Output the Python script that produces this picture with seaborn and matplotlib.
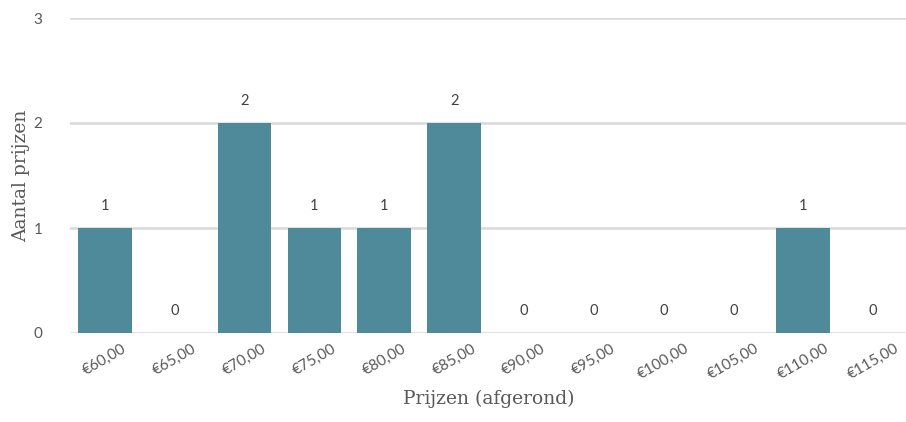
import matplotlib
matplotlib.use("Agg")
import matplotlib.pyplot as plt
import seaborn as sns
import pandas as pd

# Price buckets (rounded) and how many prices fall in each
prijzen = ["€60,00", "€65,00", "€70,00", "€75,00", "€80,00", "€85,00",
           "€90,00", "€95,00", "€100,00", "€105,00", "€110,00", "€115,00"]
aantal = [1, 0, 2, 1, 1, 2, 0, 0, 0, 0, 1, 0]
y_ticks = [0, 1, 2, 3]

df = pd.DataFrame({"prijs": prijzen, "aantal": aantal})

sns.set_theme(style="white")
plt.rcParams["font.family"] = ["Lato", "DejaVu Sans"]

bar_color = "#4F8A9A"
text_color = "#595959"

fig = plt.figure(figsize=(9.06, 4.22), dpi=100)
ax = fig.add_axes([70 / 906, 1 - 333 / 422, 838 / 906, 315 / 422])

sns.barplot(data=df, x="prijs", y="aantal", color=bar_color, width=0.77,
            saturation=1, linewidth=0, edgecolor="none", ax=ax, zorder=3)

ax.set_ylim(0, 3)
ax.set_xlim(-0.5, len(prijzen) - 0.5)
ax.set_yticks(y_ticks)
ax.yaxis.grid(True, color="#D9D9D9", linewidth=1.8, zorder=0)
ax.set_axisbelow(True)
for s in ax.spines.values():
    s.set_visible(False)

ax.tick_params(axis="both", length=0, labelsize=11, labelcolor=text_color)
ax.tick_params(axis="y", pad=20)
ax.tick_params(axis="x", pad=6)
for lbl in ax.get_xticklabels():
    lbl.set_rotation(30)
    lbl.set_ha("center")
    lbl.set_rotation_mode("default")

# Value labels above each bar
for i, v in enumerate(aantal):
    ax.text(i, v + 0.21, str(v), ha="center", va="center",
            fontsize=10.5, color="#404040")

serif = ["DejaVu Serif"]
ax.set_ylabel("Aantal prijzen", fontsize=13.5, color=text_color,
              family=serif, labelpad=2)
ax.set_xlabel("Prijzen (afgerond)", fontsize=13.5, color=text_color,
              family=serif, labelpad=6)

fig.savefig("out.png", dpi=100)
